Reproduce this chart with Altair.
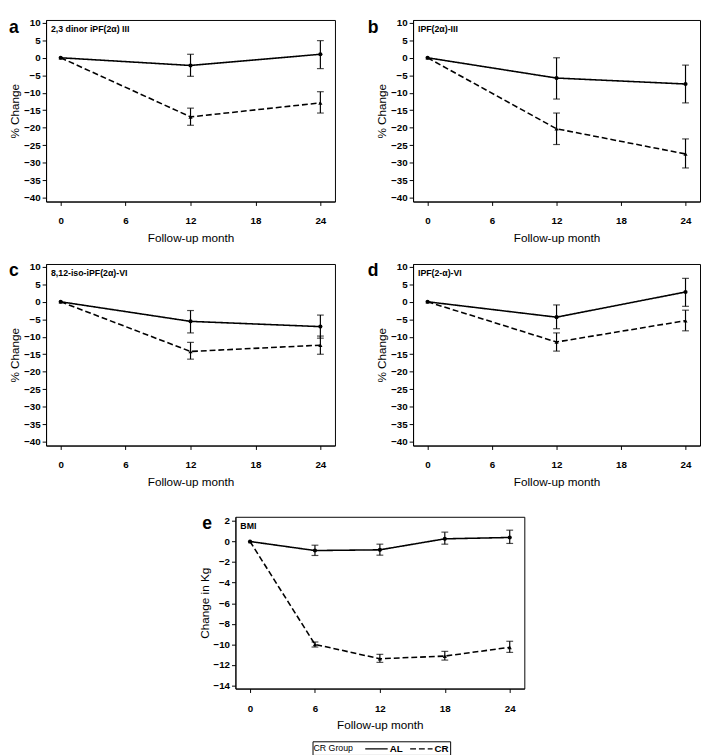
import altair as alt
import pandas as pd

FONT = "Liberation Sans"

months_abcd = [0, 12, 24]
months_e = [0, 6, 12, 18, 24]

# panel a
a_al_mean = [0, -2.2, 1.0]
a_al_lo = [0, -5.3, -3.1]
a_al_hi = [0, 1.0, 4.9]
a_cr_mean = [0, -16.9, -12.9]
a_cr_lo = [0, -19.3, -15.8]
a_cr_hi = [0, -14.4, -9.7]
# panel b
b_al_mean = [0, -5.8, -7.5]
b_al_lo = [0, -11.8, -12.9]
b_al_hi = [0, 0.0, -2.1]
b_cr_mean = [0, -20.3, -27.5]
b_cr_lo = [0, -24.8, -31.5]
b_cr_hi = [0, -15.8, -23.2]
# panel c
c_al_mean = [0, -5.6, -7.1]
c_al_lo = [0, -8.9, -10.4]
c_al_hi = [0, -2.5, -3.8]
c_cr_mean = [0, -14.2, -12.4]
c_cr_lo = [0, -16.4, -15.0]
c_cr_hi = [0, -11.6, -9.8]
# panel d
d_al_mean = [0, -4.4, 2.8]
d_al_lo = [0, -7.7, -1.3]
d_al_hi = [0, -0.9, 6.7]
d_cr_mean = [0, -11.5, -5.4]
d_cr_lo = [0, -14.1, -8.3]
d_cr_hi = [0, -8.9, -2.4]
# panel e (BMI)
e_al_mean = [0, -0.88, -0.81, 0.26, 0.39]
e_al_lo = [0, -1.36, -1.33, -0.26, -0.19]
e_al_hi = [0, -0.36, -0.26, 0.91, 1.10]
e_cr_mean = [0, -10.0, -11.4, -11.14, -10.29]
e_cr_lo = [0, -10.26, -11.75, -11.53, -10.78]
e_cr_hi = [0, -9.77, -10.97, -10.68, -9.70]

groups = ["AL", "CR"]
y_ticks_pct = [10, 5, 0, -5, -10, -15, -20, -25, -30, -35, -40]
y_ticks_kg = [2, 0, -2, -4, -6, -8, -10, -12, -14]
x_ticks = [0, 6, 12, 18, 24]


def make_df(months, al, cr):
    rows = []
    for g, (m, lo, hi) in zip(groups, [al, cr]):
        for i, mo in enumerate(months):
            rows.append({"month": mo, "group": g, "mean": m[i], "lo": lo[i], "hi": hi[i]})
    return pd.DataFrame(rows)


def panel(df, label, letter, ydom, yticks, ytitle, w, h, letter_dx, letter_dy, legend=None):
    base = alt.Chart(df)
    xsc = alt.Scale(domain=[-1.35, 25.35], nice=False, zero=False)
    ysc = alt.Scale(domain=ydom, nice=False, zero=False)
    xax = alt.Axis(values=x_ticks, title="Follow-up month")
    yax = alt.Axis(values=yticks, title=ytitle, labelOverlap=False)

    def X():
        return alt.X("month:Q", scale=xsc, axis=xax)

    def Y(f):
        return alt.Y(f + ":Q", scale=ysc, axis=yax)

    dash = alt.StrokeDash("group:N", scale=alt.Scale(domain=groups, range=[[1, 0], [6, 3]]),
                          legend=legend)
    line = base.mark_line(color="black", strokeWidth=1.6).encode(x=X(), y=Y("mean"), strokeDash=dash)
    pts_al = base.transform_filter("datum.group == 'AL'").mark_point(
        filled=True, color="black", size=18, opacity=1, shape="circle").encode(x=X(), y=Y("mean"))
    pts_cr = base.transform_filter("datum.group == 'CR'").mark_point(
        filled=True, color="black", size=18, opacity=1, shape="triangle-up").encode(x=X(), y=Y("mean"))
    eb = base.transform_filter("datum.lo != datum.hi")
    rule = eb.mark_rule(color="black", strokeWidth=1.2).encode(x=X(), y=Y("lo"), y2="hi:Q")
    cap_lo = eb.mark_tick(color="black", orient="horizontal", size=7, thickness=1.2).encode(
        x=X(), y=Y("lo"))
    cap_hi = eb.mark_tick(color="black", orient="horizontal", size=7, thickness=1.2).encode(
        x=X(), y=Y("hi"))
    lab = alt.Chart(pd.DataFrame({"t": [label]})).mark_text(
        align="left", baseline="middle", font=FONT, fontSize=9, fontWeight="bold", color="black"
    ).encode(text="t:N", x=alt.value(5), y=alt.value(9))
    let = alt.Chart(pd.DataFrame({"t": [letter]})).mark_text(
        align="center", baseline="top", font=FONT, fontSize=18, fontWeight="bold", color="black"
    ).encode(text="t:N", x=alt.value(letter_dx), y=alt.value(letter_dy))
    return alt.layer(line, rule, cap_lo, cap_hi, pts_al, pts_cr, lab, let).properties(width=w, height=h)


df_a = make_df(months_abcd, (a_al_mean, a_al_lo, a_al_hi), (a_cr_mean, a_cr_lo, a_cr_hi))
df_b = make_df(months_abcd, (b_al_mean, b_al_lo, b_al_hi), (b_cr_mean, b_cr_lo, b_cr_hi))
df_c = make_df(months_abcd, (c_al_mean, c_al_lo, c_al_hi), (c_cr_mean, c_cr_lo, c_cr_hi))
df_d = make_df(months_abcd, (d_al_mean, d_al_lo, d_al_hi), (d_cr_mean, d_cr_lo, d_cr_hi))
df_e = make_df(months_e, (e_al_mean, e_al_lo, e_al_hi), (e_cr_mean, e_cr_lo, e_cr_hi))

pct_dom = [-41.1, 10.8]
W, H = 296, 186

pa = panel(df_a, "2,3 dinor iPF(2\u03b1) III", "a", pct_dom, y_ticks_pct, "% Change", W, H, -33, -1)
pb = panel(df_b, "IPF(2\u03b1)-III", "b", pct_dom, y_ticks_pct, "% Change", W - 2, H, -41, -1)
pc = panel(df_c, "8,12-iso-iPF(2\u03b1)-VI", "c", pct_dom, y_ticks_pct, "% Change", W, H, -33, -2)
pd_ = panel(df_d, "IPF(2-\u03b1)-VI", "d", pct_dom, y_ticks_pct, "% Change", W - 2, H, -41, -2)

leg = alt.Legend(
    title="CR Group", orient="none", legendX=273, legendY=230, direction="horizontal",
    titleOrient="left", titleFont=FONT, titleFontSize=9, titleFontWeight="normal", titleColor="black",
    titleBaseline="middle",
    labelFont=FONT, labelFontSize=10, labelFontWeight="bold", labelColor="black",
    symbolType="M-2,0H2", symbolStrokeColor="black", symbolStrokeWidth=1.5, symbolSize=132,
    strokeColor="black", padding=1, columnPadding=4, titlePadding=17, labelOffset=7,
)
pe = panel(df_e, "BMI", "e", [-14.3, 2.4], y_ticks_kg, "Change in Kg", 296, 176, -29, -2, legend=leg)

spacer = alt.Chart(pd.DataFrame({"x": [0]})).mark_point(opacity=0).encode(
    x=alt.X("x:Q", axis=None), y=alt.Y("x:Q", axis=None)
).properties(width=154, height=10, view=alt.ViewBackground(stroke="transparent"))

row1 = alt.hconcat(pa, pb, spacing=32)
row2 = alt.hconcat(pc, pd_, spacing=32)
row3 = alt.hconcat(spacer, pe, spacing=0)

top = alt.vconcat(row1, row2, spacing=17)
chart = alt.vconcat(
    top, row3, spacing=26, padding={"top": 0, "left": 0, "right": 0, "bottom": 0}
).resolve_scale(
    strokeDash="independent"
).configure_view(
    stroke="black", strokeWidth=1
).configure_axis(
    grid=False, domainColor="black", tickColor="black", labelColor="black", titleColor="black",
    labelFont=FONT, titleFont=FONT, labelFontSize=10, labelFontWeight="bold",
    titleFontSize=12, titleFontWeight="normal", tickSize=4, labelPadding=2
).configure_axisX(
    labelPadding=11, titlePadding=7
).configure_axisY(
    titlePadding=2, labelOverlap=False
)

chart.save("out.html", embed_options={"renderer": "svg", "actions": False})
